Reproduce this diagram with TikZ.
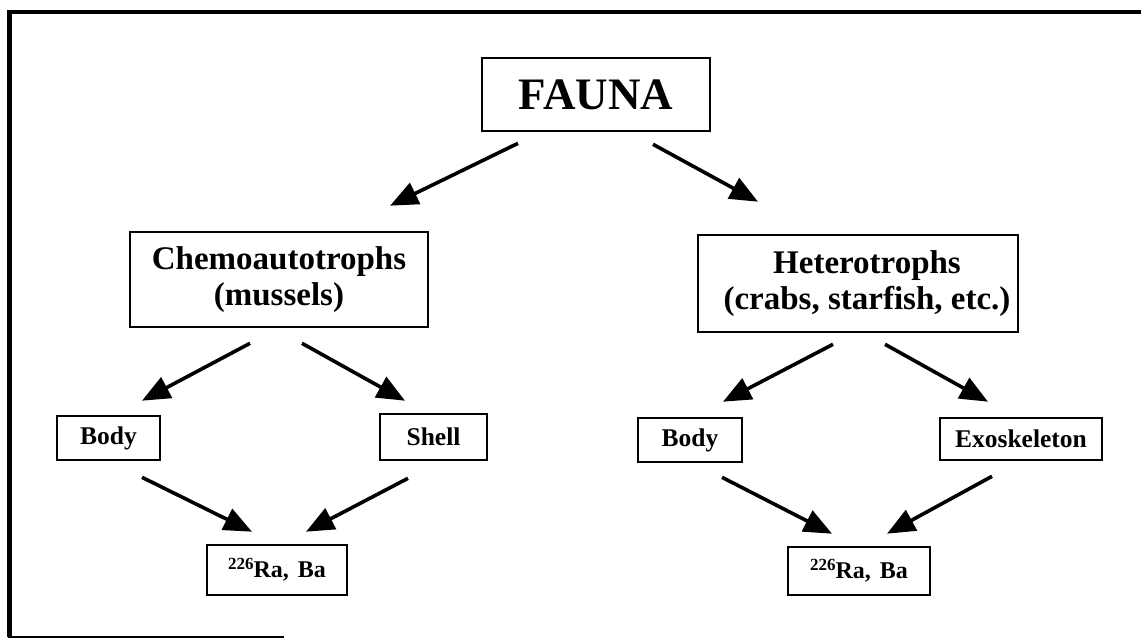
\documentclass[tikz,border=0pt]{standalone}
\usepackage{fontspec}
\setmainfont{Liberation Serif}
\usetikzlibrary{arrows.meta,calc}
\begin{document}
\begin{tikzpicture}[x=1pt,y=-1pt,
  box/.style={draw=black,line width=2.6pt,inner sep=0pt,font=\bfseries},
  arr/.style={line width=3.6pt,-{Triangle[length=28pt,width=23pt]}},
  big/.style={font=\bfseries\fontsize{45}{48}\selectfont},
  mid/.style={font=\bfseries\fontsize{33}{36}\selectfont,align=center},
  small/.style={font=\bfseries\fontsize{25.5}{28}\selectfont},
  ra/.style={font=\bfseries\fontsize{24}{26}\selectfont}]
\useasboundingbox (0,0) rectangle (1141,641);
% frame
\draw[line width=4.5pt] (1141,12) -- (9.5,12) -- (9.5,637);
\draw[line width=2pt] (8,636.5) -- (284,636.5);
% nodes
\node[box,big,minimum width=228pt,minimum height=73pt] (fauna) at (596,94.5) {FAUNA};
\node[box,mid,minimum width=298pt,minimum height=95pt] (chemo) at (279,279.5) {Chemoautotrophs\\(mussels)};
\node[box,minimum width=320pt,minimum height=97pt] (hetero) at (858,283.5) {};
\node[mid,inner sep=0pt] (heterotxt) at (867,284) {Heterotrophs\\(crabs, starfish, etc.)};
\node[box,small,minimum width=103pt,minimum height=44pt] (body1) at (108.5,438) {Body};
\node[box,small,minimum width=107pt,minimum height=46pt] (shell) at (433.5,437) {Shell};
\node[box,small,minimum width=104pt,minimum height=44pt] (body2) at (690,440) {Body};
\node[box,small,minimum width=162pt,minimum height=42pt] (exo) at (1021,439) {Exoskeleton};
\node[box,ra,minimum width=140pt,minimum height=50pt] (ra1) at (277,570) {\raisebox{8pt}{\fontsize{17}{17}\selectfont 226}Ra,\hspace{9pt}Ba};
\node[box,ra,minimum width=142pt,minimum height=48pt] (ra2) at (859,571) {\raisebox{8pt}{\fontsize{17}{17}\selectfont 226}Ra,\hspace{9pt}Ba};
% connector end points
\coordinate (f1) at ($(fauna.south)+(-78,11)$);
\coordinate (f2) at ($(fauna.south)+(57,12)$);
\coordinate (c0) at ($(chemo.north)+(111,-25)$);
\coordinate (h0) at ($(hetero.north)+(-100,-32)$);
\coordinate (c1) at ($(chemo.south)+(-29,15)$);
\coordinate (c2) at ($(chemo.south)+(23,15)$);
\coordinate (b1t) at ($(body1.north)+(33.5,-14)$);
\coordinate (s1t) at ($(shell.north)+(-28.5,-12)$);
\coordinate (h1) at ($(hetero.south)+(-25,11)$);
\coordinate (h2) at ($(hetero.south)+(27,11)$);
\coordinate (b2t) at ($(body2.north)+(33,-15)$);
\coordinate (e1t) at ($(exo.north)+(-33,-15)$);
\coordinate (b1s) at ($(body1.south)+(33.5,16)$);
\coordinate (s1s) at ($(shell.south)+(-25.5,17)$);
\coordinate (r1a) at ($(ra1.north)+(-25,-12)$);
\coordinate (r1b) at ($(ra1.north)+(29,-12)$);
\coordinate (b2s) at ($(body2.south)+(32,14)$);
\coordinate (e1s) at ($(exo.south)+(-29,15)$);
\coordinate (r2a) at ($(ra2.north)+(-27,-12)$);
\coordinate (r2b) at ($(ra2.north)+(28,-12)$);
% connectors
\draw[arr] (f1) -- (c0);
\draw[arr] (f2) -- (h0);
\draw[arr] (c1) -- (b1t);
\draw[arr] (c2) -- (s1t);
\draw[arr] (h1) -- (b2t);
\draw[arr] (h2) -- (e1t);
\draw[arr] (b1s) -- (r1a);
\draw[arr] (s1s) -- (r1b);
\draw[arr] (b2s) -- (r2a);
\draw[arr] (e1s) -- (r2b);
\end{tikzpicture}
\end{document}
